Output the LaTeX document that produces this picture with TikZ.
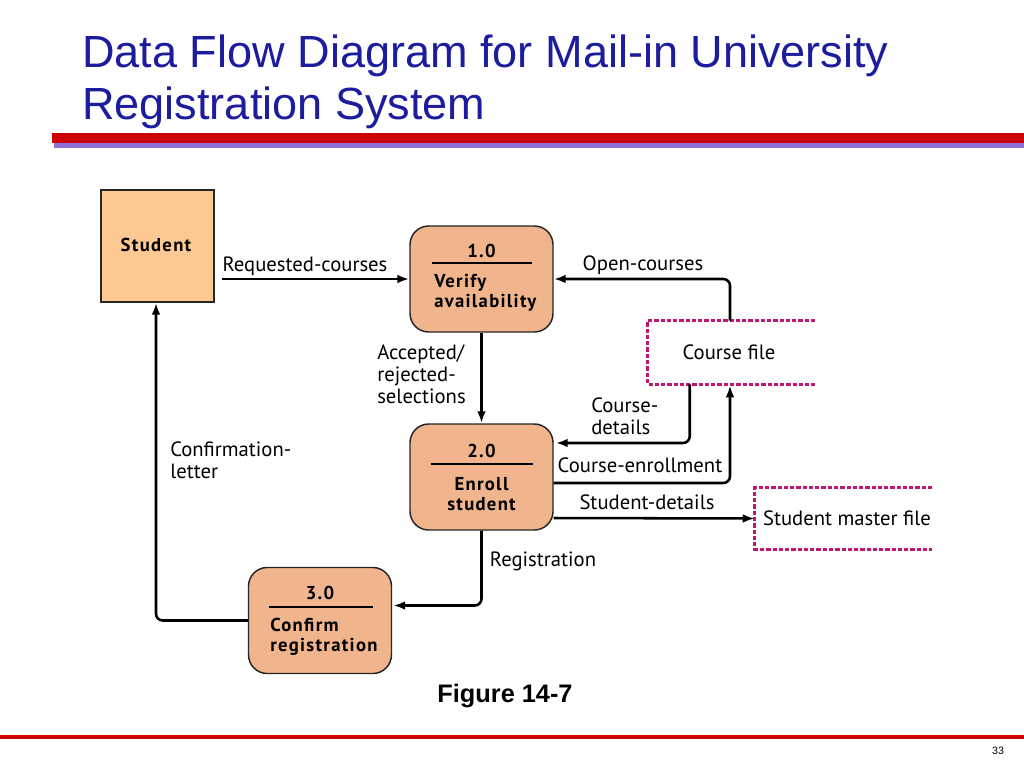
\documentclass[tikz,border=0pt]{standalone}
\usepackage{fontspec}
\setmainfont{Liberation Sans}
\newfontfamily\lblfont{PT Sans}
\newfontfamily\boldlbl[LetterSpace=7]{PT Sans Bold}
\usetikzlibrary{arrows.meta,calc}
\definecolor{titleblue}{RGB}{28,28,158}
\definecolor{barred}{RGB}{204,0,0}
\definecolor{barpurple}{RGB}{142,112,216}
\definecolor{stufill}{RGB}{251,201,145}
\definecolor{procfill}{RGB}{240,181,140}
\definecolor{storepink}{RGB}{192,24,110}
\tikzset{
  lbl/.style={font=\lblfont\fontsize{15.5}{16.5}\selectfont, inner sep=0pt, align=left},
  bold/.style={font=\boldlbl\fontsize{14}{15}\selectfont, inner sep=0pt},
  procbox/.style={draw=black!85, line width=1.1pt, fill=procfill, rounded corners=14pt, minimum width=107.25pt, minimum height=79.5pt, inner sep=0pt},
  entbox/.style={draw=black!85, line width=1pt, fill=stufill, minimum width=84.75pt, minimum height=84pt, inner sep=0pt},
  storebox/.style={inner sep=0pt},
  storeline/.style={draw=storepink, line width=2.2pt, dash pattern=on 3.2pt off 1.5pt},
  flow/.style={draw, line width=1.9pt, rounded corners=5pt, -{Latex[length=9pt,width=6.5pt]}},
  rulebar/.style={line width=1.6pt}
}
\begin{document}
\begin{tikzpicture}[x=0.75pt,y=-0.75pt]
\useasboundingbox (0,0) rectangle (1024,768);
\fill[white] (0,0) rectangle (1024,768);
% title
\node[anchor=west, text=titleblue, font=\fontsize{33.8}{39.5}\selectfont, align=left, inner sep=0pt] (title) at (82,82) {Data Flow Diagram for Mail-in University\\Registration System};
\fill[barpurple] (54,141) rectangle (1024,148);
\fill[barred] (52,133) rectangle (1024,143);
% nodes
\node[entbox] (stu) at (157.5,246) {};
\node[bold] (stut) at (156,245) {Student};
\node[procbox] (p1) at (481.5,279) {};
\node[procbox] (p2) at (481.5,477) {};
\node[procbox] (p3) at (320,620.5) {};
% process 1
\node[bold] (p1n) at ($(p1.center)+(0,-28)$) {1.0};
\draw[rulebar] ($(p1.center)+(-50,-16)$) -- ($(p1.center)+(50,-16)$);
\node[bold, anchor=west, align=left] (p1t) at ($(p1.center)+(-47.5,14)$) {Verify\\availability};
% process 2
\node[bold] (p2n) at ($(p2.center)+(0,-26)$) {2.0};
\draw[rulebar] ($(p2.center)+(-51,-13)$) -- ($(p2.center)+(51,-13)$);
\node[bold, align=center] (p2t) at ($(p2.center)+(0,17)$) {Enroll\\student};
% process 3
\node[bold] (p3n) at ($(p3.center)+(0,-27.5)$) {3.0};
\draw[rulebar] ($(p3.center)+(-51,-13.5)$) -- ($(p3.center)+(53,-13.5)$);
\node[bold, anchor=west, align=left] (p3t) at ($(p3.center)+(-50,16.5)$) {Confirm\\registration};
% stores
\node[storebox, minimum width=125.25pt, minimum height=47.25pt] (cf) at (731.5,352.5) {};
\node[lbl] (cft) at (729,352) {Course file};
\draw[storeline] (cf.north east) -- (cf.north west) -- (cf.south west) -- (cf.south east);
\node[storebox, minimum width=132.75pt, minimum height=45.75pt] (smf) at (843.5,518.5) {};
\node[lbl] (smft) at (847,518) {Student master file};
\draw[storeline] (smf.north east) -- (smf.north west) -- (smf.south west) -- (smf.south east);
% flows
\draw[flow] ($(stu.east)+(7,33)$) -- (p1.west);
\node[lbl] (l1) at (305,266) {Requested-courses};
\draw[flow] ($(cf.north)+(-1.5,0)$) |- (p1.east);
\node[lbl] (l2) at (643,265) {Open-courses};
\draw[flow] (p1.south) -- (p2.north);
\node[lbl, anchor=north west] (l3) at (377,345) {Accepted/\\rejected-\\selections};
\draw[flow] ($(cf.south west)+(42,0)$) |- ($(p2.east)+(2,-34)$);
\node[lbl, anchor=north west] (l4) at (591,398) {Course-\\details};
\draw[flow] ($(p2.east)+(0,6)$) -| ($(cf.south)+(-1.5,1)$);
\node[lbl] (l5) at (640,465) {Course-enrollment};
\draw[flow] ($(p2.east)+(0,41)$) -- (smf.west);
\node[lbl] (l6) at (647,502) {Student-details};
\draw[flow] (p2.south) |- ($(p3.east)+(1,-15)$);
\node[lbl] (l7) at (543,561) {Registration};
\draw[flow] (p3.west) -| ($(stu.south)+(-1.5,0)$);
\node[lbl, anchor=north west] (l8) at (170,442) {Confirmation-\\letter};
% footer
\node[font=\bfseries\fontsize{19}{22}\selectfont, inner sep=0pt] (fig) at (505,696) {Figure 14-7};
\fill[barred] (0,735) rectangle (1024,739);
\node[font=\fontsize{8}{10}\selectfont, inner sep=0pt] (pg) at (998,751) {33};
\end{tikzpicture}
\end{document}
